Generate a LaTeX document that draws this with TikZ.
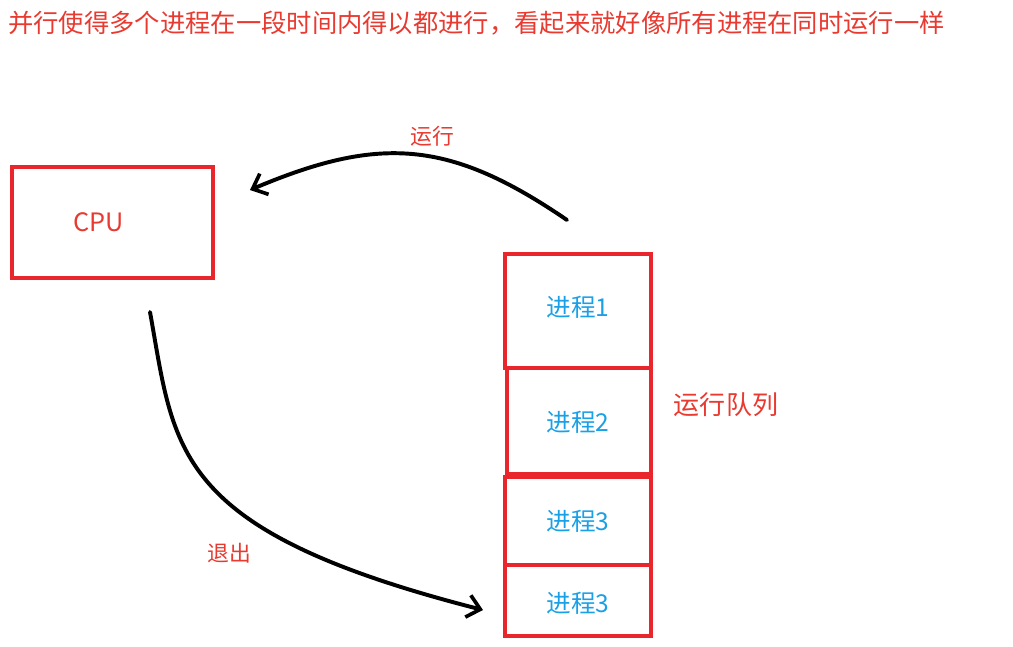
\documentclass[tikz,border=0pt]{standalone}
\usepackage{fontspec}
\setmainfont{Noto Sans CJK SC}
\usepackage{tikz}
\usetikzlibrary{arrows.meta}
\definecolor{redline}{HTML}{E8262C}
\definecolor{redtext}{HTML}{E83A30}
\definecolor{bluetext}{HTML}{1AA0E6}
\tikzset{
  box/.style={draw=redline, line width=2.9pt},
  proc/.style={font=\fontsize{17.5}{19}\selectfont, text=bluetext},
  tag/.style={font=\fontsize{15.5}{18}\selectfont, text=redtext},
  move/.style={draw=black, line width=2.8pt, line cap=round, -{Straight Barb[length=9pt,width=16pt,line width=2.6pt]}}
}
\begin{document}
\begin{tikzpicture}[x=0.025cm, y=-0.025cm]
  \useasboundingbox (0,0) rectangle (1013,646);
  \node[tag, font=\fontsize{18}{22}\selectfont, anchor=west, inner sep=0pt] (title) at (8,23) {并行使得多个进程在一段时间内得以都进行，看起来就好像所有进程在同时运行一样};

  % cpu
  \draw[box] (12,167) rectangle (213,278);
  \node[font=\fontsize{18}{20}\selectfont, text=redtext] (cpu) at (99,222) {CPU};

  % run queue
  \draw[box] (505,254) rectangle (651,368);
  \draw[box] (507,368) rectangle (651,474);
  \draw[box] (505,477) rectangle (651,565);
  \draw[box] (505,565) rectangle (651,636);
  \node[proc] (p1) at (578,307) {进程1};
  \node[proc] (p2) at (578,422) {进程2};
  \node[proc] (p3) at (578,521) {进程3};
  \node[proc] (p4) at (578,603) {进程3};
  \node[tag, font=\fontsize{18.5}{20}\selectfont] (queue) at (726,405) {运行队列};

  % arrows
  \coordinate (runS) at (567,220);
  \coordinate (runE) at (250,190);
  \draw[move] (runS) .. controls (450,140) and (380,135) .. (runE);
  \node[tag] (run) at (432,136) {运行};
  \coordinate (outS) at (150,312);
  \coordinate (outE) at (483,610);
  \draw[move] (outS) .. controls (175,450) and (170,530) .. (outE);
  \node[tag] (out) at (229,553) {退出};
\end{tikzpicture}
\end{document}
